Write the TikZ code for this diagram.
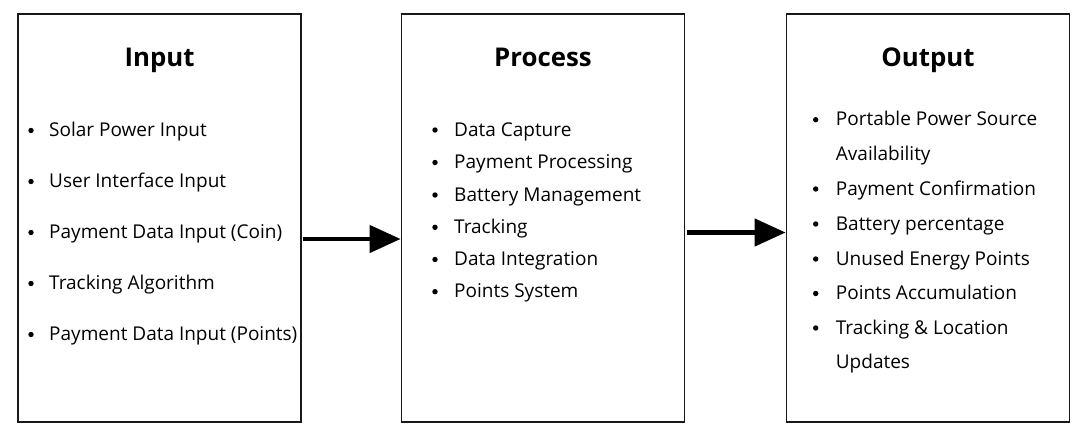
\documentclass[tikz,border=0pt]{standalone}
\usepackage{fontspec}
\setmainfont{Open Sans}
\usetikzlibrary{arrows.meta}
\begin{document}
\begin{tikzpicture}[x=1pt,y=-1pt,
  panel/.style={draw=black!90,line width=1.8pt,minimum width=283pt,minimum height=408pt,inner sep=0pt},
  ttl/.style={anchor=base,inner sep=0pt,font=\fontsize{25.8}{30}\selectfont\bfseries},
  itm/.style={anchor=base west,inner sep=0pt,font=\fontsize{19}{22}\selectfont},
  bul/.style={circle,fill=black,inner sep=0pt,minimum size=5.4pt},
  flow/.style={line width=4.5pt,-{Triangle[length=31pt,width=27pt]}}]
\useasboundingbox (0,0) rectangle (1086,437);
\node[panel] (input) at (159.5,218) {};
\node[panel] (process) at (543,218) {};
\node[panel] (output) at (928,218) {};
\node[ttl] (t1) at (159.5,66.7) {Input};
\node[ttl] (t2) at (543,66.7) {Process};
\node[ttl] (t3) at (928,66.7) {Output};
% Input items
\foreach \y/\t [count=\i] in {136.5/Solar Power Input,187.5/User Interface Input,238.5/Payment Data Input (Coin),289.5/Tracking Algorithm,340.5/Payment Data Input (Points)}{
  \node[bul] (ib\i) at (31,\y-6) {};
  \node[itm] (ii\i) at (49,\y) {\t};
}
% Process items
\foreach \y/\t [count=\i] in {136/Data Capture,168.5/Payment Processing,201/Battery Management,233.3/Tracking,265.5/Data Integration,297.7/Points System}{
  \node[bul] (pb\i) at (435,\y-6) {};
  \node[itm] (pi\i) at (454,\y) {\t};
}
% Output items
\foreach \y/\t [count=\i] in {125.7/Portable Power Source,195/Payment Confirmation,230/Battery percentage,265/Unused Energy Points,299.5/Points Accumulation,334/Tracking \& Location}{
  \node[bul] (ob\i) at (815.7,\y-6) {};
  \node[itm] (oi\i) at (835.7,\y) {\t};
}
\node[itm] (oc1) at (835.7,160) {Availability};
\node[itm] (oc2) at (835.7,368.5) {Updates};
\draw[flow] ([xshift=1pt,yshift=-21pt]input.east) -- ([yshift=-21pt]process.west);
\draw[flow] ([xshift=2pt,yshift=-14.5pt]process.east) -- ([yshift=-14.5pt]output.west);
\end{tikzpicture}
\end{document}
